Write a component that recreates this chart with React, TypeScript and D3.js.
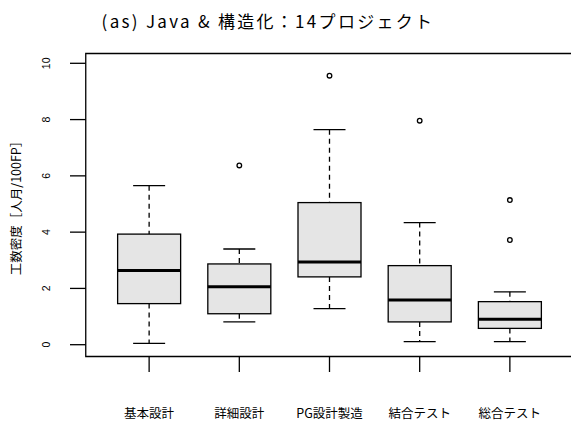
import * as d3 from "d3"

// Box statistics (人月/100FP)
const phases = ["基本設計", "詳細設計", "PG設計製造", "結合テスト", "総合テスト"]
const lowerWhisker = [0.05, 0.81, 1.28, 0.11, 0.11]
const q1 = [1.46, 1.1, 2.41, 0.81, 0.58]
const medians = [2.64, 2.06, 2.94, 1.59, 0.9]
const q3 = [3.93, 2.87, 5.05, 2.81, 1.53]
const upperWhisker = [5.65, 3.4, 7.64, 4.34, 1.88]
const outliers = [[], [6.37], [9.56], [7.96], [5.14, 3.72]]
const yTicks = [0, 2, 4, 6, 8, 10]

const W = 571
const H = 424
const font = "'Liberation Sans', 'Noto Sans CJK JP', sans-serif"
const jpFont = "'Noto Sans CJK JP', sans-serif"

const App = () => {
  const x = d3.scaleLinear().domain([0.3, 5.7]).range([86, 573])
  const y = d3.scaleLinear().domain([0, 10]).range([344.7, 63.3])
  const plotTop = 53.5
  const plotBottom = 356.5
  const boxHalf = 31.5
  const capHalf = 16

  return (
    <svg
      width={W}
      height={H}
      style={{ position: "absolute", left: 0, top: 0, background: "#fff" }}
      fontFamily={font}
    >
      <text x={268} y={28} textAnchor="middle" fontSize={17} fill="#000" fontFamily={jpFont} letterSpacing={2.3}>
        (as) Java &amp; 構造化：14プロジェクト
      </text>

      {/* frame (right side lies outside the picture) */}
      <path
        d={`M600,${plotTop}H${85.75}V${plotBottom}H600`}
        fill="none"
        stroke="#000"
        strokeWidth={1.3}
      />

      {/* y axis */}
      {yTicks.map(t => (
        <g key={t}>
          <line x1={70} x2={85.75} y1={y(t)} y2={y(t)} stroke="#000" strokeWidth={1.3} />
          <text
            transform={`translate(50,${y(t)}) rotate(-90)`}
            textAnchor="middle"
            fontSize={10.5}
            fill="#000"
          >
            {t}
          </text>
        </g>
      ))}
      <text
        transform={`translate(21,${(plotTop + plotBottom) / 2}) rotate(-90)`}
        textAnchor="middle"
        fontSize={12.5}
        fill="#000"
        fontFamily={jpFont}
      >
        工数密度［人月/100FP］
      </text>

      {/* x axis ticks and labels */}
      {phases.map((p, i) => (
        <g key={p}>
          <line x1={x(i + 1)} x2={x(i + 1)} y1={plotBottom} y2={372} stroke="#000" strokeWidth={1.3} />
          <text x={x(i + 1)} y={418} textAnchor="middle" fontSize={12.5} fill="#000" fontFamily={jpFont}>
            {p}
          </text>
        </g>
      ))}

      {/* boxes */}
      {phases.map((p, i) => {
        const cx = x(i + 1)
        return (
          <g key={p}>
            <line x1={cx} x2={cx} y1={y(upperWhisker[i])} y2={y(q3[i])} stroke="#000" strokeWidth={1.3} strokeDasharray="5,4" />
            <line x1={cx} x2={cx} y1={y(q1[i])} y2={y(lowerWhisker[i])} stroke="#000" strokeWidth={1.3} strokeDasharray="5,4" />
            <line x1={cx - capHalf} x2={cx + capHalf} y1={y(upperWhisker[i])} y2={y(upperWhisker[i])} stroke="#000" strokeWidth={1.3} />
            <line x1={cx - capHalf} x2={cx + capHalf} y1={y(lowerWhisker[i])} y2={y(lowerWhisker[i])} stroke="#000" strokeWidth={1.3} />
            <rect
              x={cx - boxHalf}
              y={y(q3[i])}
              width={boxHalf * 2}
              height={y(q1[i]) - y(q3[i])}
              fill="#e5e5e5"
              stroke="#000"
              strokeWidth={1.3}
            />
            <line x1={cx - boxHalf} x2={cx + boxHalf} y1={y(medians[i])} y2={y(medians[i])} stroke="#000" strokeWidth={3} />
            {outliers[i].map((o, j) => (
              <circle key={j} cx={cx} cy={y(o)} r={2.3} fill="none" stroke="#000" strokeWidth={1.3} />
            ))}
          </g>
        )
      })}
    </svg>
  )
}

export default App
